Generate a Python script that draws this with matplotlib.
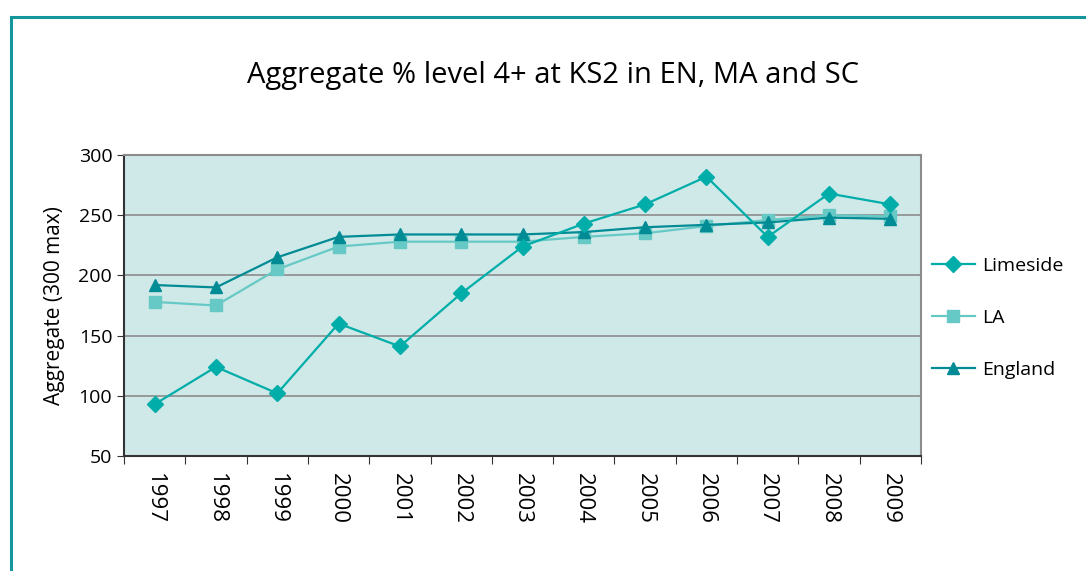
import matplotlib
matplotlib.use('Agg')
import matplotlib.pyplot as plt
from matplotlib.patches import Rectangle
import numpy as np

plt.rcParams['font.family'] = ['Open Sans', 'DejaVu Sans']

# 数据
years = ['1997', '1998', '1999', '2000', '2001', '2002', '2003',
         '2004', '2005', '2006', '2007', '2008', '2009']
limeside = [93, 124, 102, 160, 141, 185, 224, 243, 259, 282, 232, 268, 259]
la = [178, 175, 205, 224, 228, 228, 228, 232, 235, 241, 246, 250, 249]
england = [192, 190, 215, 232, 234, 234, 234, 236, 240, 242, 244, 248, 247]

fig = plt.figure(figsize=(10.86, 5.71), dpi=100, facecolor='white')

# 外框
fig.patches.append(Rectangle((11 / 1086, -0.1), 1.2, 0.1 + (1 - 17 / 571),
                             transform=fig.transFigure, fill=False,
                             edgecolor='#13979c', linewidth=2.2))

ax = fig.add_axes([124 / 1086, 1 - 456 / 571, 797 / 1086, 301 / 571])
ax.set_facecolor('#cfe9e8')

x = np.arange(len(years))
ax.plot(x, limeside, color='#00ada9', marker='D', markersize=8, linewidth=1.6,
        label='Limeside', zorder=4)
ax.plot(x, la, color='#66c9c5', marker='s', markersize=8, linewidth=1.6,
        label='LA', zorder=3)
ax.plot(x, england, color='#008b95', marker='^', markersize=9, linewidth=1.6,
        label='England', zorder=3)

ax.set_xlim(-0.5, len(years) - 0.5)
ax.set_ylim(50, 300)
ax.set_yticks(range(50, 301, 50))
ax.yaxis.grid(True, color='#8c8c8c', linewidth=1.2)
ax.set_axisbelow(True)

ax.set_xticks(np.arange(-0.5, len(years), 1.0))
ax.set_xticklabels([])
ax.set_xticks(x, minor=True)
ax.set_xticklabels(years, minor=True, rotation=270, fontsize=16)
ax.tick_params(axis='x', which='major', direction='out', length=6, color='#333333')
ax.tick_params(axis='x', which='minor', length=0, pad=12)
ax.tick_params(axis='y', direction='out', length=5, labelsize=14, color='#333333')

ax.spines['left'].set_color('#333333')
ax.spines['bottom'].set_color('#333333')
ax.spines['top'].set_color('#8c8c8c')
ax.spines['right'].set_color('#8c8c8c')
for s in ax.spines.values():
    s.set_linewidth(1.5)

ax.set_ylabel('Aggregate (300 max)', fontsize=15, labelpad=10)

fig.text(553 / 1086, 1 - 75 / 571, 'Aggregate % level 4+ at KS2 in EN, MA and SC',
         ha='center', va='center', fontsize=21)

ax.legend(loc='center left', bbox_to_anchor=(932 / 1086, 1 - 318 / 571),
          bbox_transform=fig.transFigure, frameon=False, fontsize=14,
          handlelength=2.2, labelspacing=1.75, handletextpad=0.4,
          borderaxespad=0, borderpad=0)

fig.savefig('out.png', dpi=100, facecolor='white')
